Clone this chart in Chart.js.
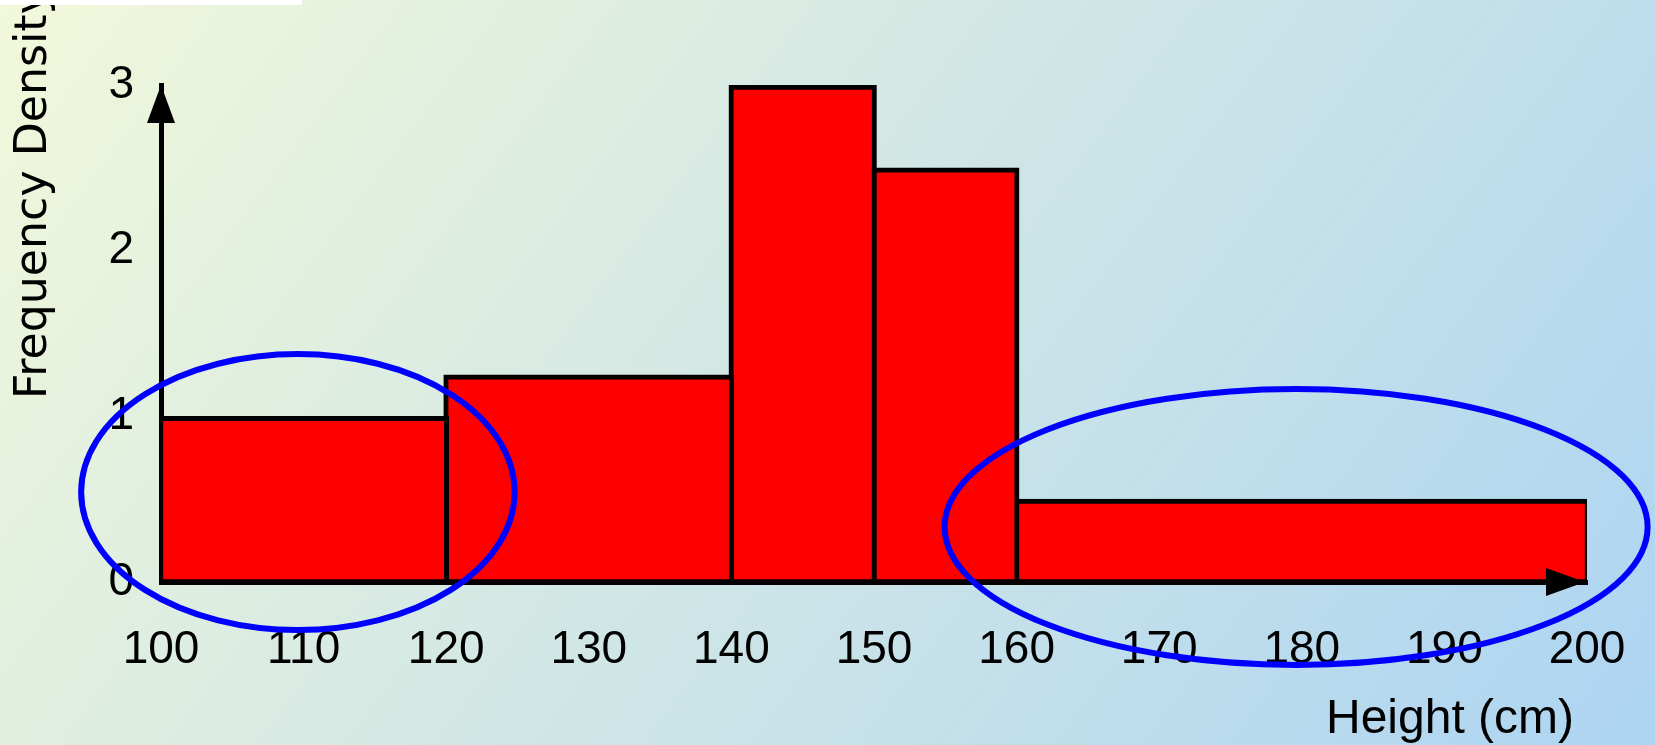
<!DOCTYPE html>
<html>
<head>
<meta charset="utf-8">
<script src="https://cdn.jsdelivr.net/npm/chart.js@4.4.1/dist/chart.umd.min.js"></script>
<style>
  html, body { margin: 0; padding: 0; overflow: hidden; background: #ffffff; }
  canvas { display: block; }
</style>
</head>
<body>
<canvas id="histogram" width="1655" height="745"></canvas>
<script>
// Height classes (cm) and the frequency density of each class
const classStart = [100, 120, 140, 150, 160];
const classEnd = [120, 140, 150, 160, 200];
const frequencyDensity = [1, 1.25, 3, 2.5, 0.5];

// Axis tick values
const heightTicks = [100, 110, 120, 130, 140, 150, 160, 170, 180, 190, 200];
const densityTicks = [0, 1, 2, 3];

// Circled regions of the histogram, in data units
const circledRegions = [
  { cx: 109.6, cy: 0.543, rx: 15.2, ry: 0.833 },
  { cx: 179.6, cy: 0.332, rx: 24.65, ry: 0.833 }
];

const yAxisTitle = 'Frequency Density';
const xAxisTitle = 'Height (cm)';

const BORDER = 5;
const sansFamily = '"Liberation Sans", Arial, sans-serif';
const tickFont = { family: sansFamily, size: 46 };

const datasets = classStart.map((lo, i) => ({
  label: lo + '-' + classEnd[i],
  data: [{ x: (lo + classEnd[i]) / 2, y: frequencyDensity[i] }],
  backgroundColor: '#ff0000',
  borderColor: '#000000',
  borderWidth: { top: BORDER, left: BORDER, right: BORDER, bottom: 3 },
  borderSkipped: false,
  grouped: false,
  barPercentage: 1,
  categoryPercentage: 1
}));

// Slide-style diagonal gradient behind the chart
const backgroundPlugin = {
  id: 'slideBackground',
  beforeDraw(chart) {
    const { ctx, width, height } = chart;
    const g = ctx.createLinearGradient(0, 0, width, width * 0.75);
    g.addColorStop(0, '#f2f8da');
    g.addColorStop(1, '#a1cef6');
    ctx.save();
    ctx.fillStyle = g;
    ctx.fillRect(0, 0, width, height);
    ctx.restore();
  }
};

// Arrow heads on the axes, axis titles and the circled regions
const decorPlugin = {
  id: 'decor',
  afterDatasetsDraw(chart) {
    const { ctx, chartArea } = chart;
    const xs = chart.scales.x, ys = chart.scales.y;
    const ax = xs.getPixelForValue(heightTicks[0]);
    const ay = ys.getPixelForValue(densityTicks[0]);
    ctx.save();
    ctx.fillStyle = '#000000';
    // vertical arrow head
    const topY = chartArea.top;
    ctx.beginPath();
    ctx.moveTo(ax, topY);
    ctx.lineTo(ax - 14, topY + 38);
    ctx.lineTo(ax + 14, topY + 38);
    ctx.closePath();
    ctx.fill();
    // horizontal arrow head
    const tipX = xs.getPixelForValue(heightTicks[heightTicks.length - 1]) - 2;
    ctx.beginPath();
    ctx.moveTo(tipX, ay);
    ctx.lineTo(tipX - 39, ay - 14);
    ctx.lineTo(tipX - 39, ay + 14);
    ctx.closePath();
    ctx.fill();
    ctx.restore();
  },
  afterDraw(chart) {
    const { ctx } = chart;
    const xs = chart.scales.x, ys = chart.scales.y;

    // rotated y-axis title
    ctx.save();
    ctx.font = '42px "DejaVu Sans", sans-serif';
    const w = ctx.measureText(yAxisTitle).width;
    const size = 42 * 411 / w;
    ctx.font = size.toFixed(2) + 'px "DejaVu Sans", sans-serif';
    ctx.fillStyle = '#000000';
    ctx.textAlign = 'left';
    ctx.textBaseline = 'alphabetic';
    ctx.translate(46, 399);
    ctx.rotate(-Math.PI / 2);
    ctx.fillText(yAxisTitle, 0, 0);
    ctx.restore();

    // x-axis title, under the right end of the axis
    ctx.save();
    ctx.font = '48px ' + sansFamily;
    ctx.fillStyle = '#000000';
    ctx.textAlign = 'right';
    ctx.textBaseline = 'alphabetic';
    ctx.fillText(xAxisTitle, xs.right - 13, xs.bottom - 12);
    ctx.restore();

    // white strip along the top edge
    ctx.save();
    ctx.fillStyle = '#ffffff';
    ctx.fillRect(0, 0, 302, 5);
    ctx.restore();

    // circled regions
    ctx.save();
    ctx.strokeStyle = '#0000ff';
    ctx.lineWidth = 6;
    circledRegions.forEach(r => {
      const cx = xs.getPixelForValue(r.cx);
      const cy = ys.getPixelForValue(r.cy);
      const rx = xs.getPixelForValue(r.cx + r.rx) - cx;
      const ry = ys.getPixelForValue(r.cy - r.ry) - cy;
      ctx.beginPath();
      ctx.ellipse(cx, cy, rx, ry, 0, 0, Math.PI * 2);
      ctx.stroke();
    });
    ctx.restore();
  }
};

const chart = new Chart(document.getElementById('histogram'), {
  type: 'bar',
  data: { datasets },
  plugins: [backgroundPlugin, decorPlugin],
  options: {
    responsive: false,
    animation: false,
    devicePixelRatio: 1,
    layout: { padding: { top: 85, right: 68, bottom: 0, left: 0 } },
    plugins: { legend: { display: false }, tooltip: { enabled: false }, title: { display: false } },
    scales: {
      x: {
        type: 'linear',
        offset: false,
        min: heightTicks[0],
        max: heightTicks[heightTicks.length - 1],
        afterBuildTicks(scale) { scale.ticks = heightTicks.map(v => ({ value: v })); },
        afterFit(scale) { scale.height = 163; },
        grid: { display: true, color: 'rgba(0,0,0,0)', drawOnChartArea: false, drawTicks: true, tickLength: 41 },
        border: { display: true, color: '#000000', width: BORDER },
        ticks: { color: '#000000', font: tickFont, padding: 0, maxRotation: 0, autoSkip: false }
      },
      y: {
        type: 'linear',
        min: densityTicks[0],
        max: densityTicks[densityTicks.length - 1],
        afterBuildTicks(scale) { scale.ticks = densityTicks.map(v => ({ value: v })); },
        afterFit(scale) { scale.width = 161; },
        grid: { display: false, drawTicks: false },
        border: { display: true, color: '#000000', width: BORDER },
        ticks: { color: '#000000', font: tickFont, padding: 27 }
      }
    }
  }
});

// Each bar spans its class interval on the height scale
const xScale = chart.scales.x;
chart.data.datasets.forEach((ds, i) => {
  ds.barThickness = xScale.getPixelForValue(classEnd[i]) - xScale.getPixelForValue(classStart[i]) + BORDER;
});
chart.update('none');
</script>
</body>
</html>
